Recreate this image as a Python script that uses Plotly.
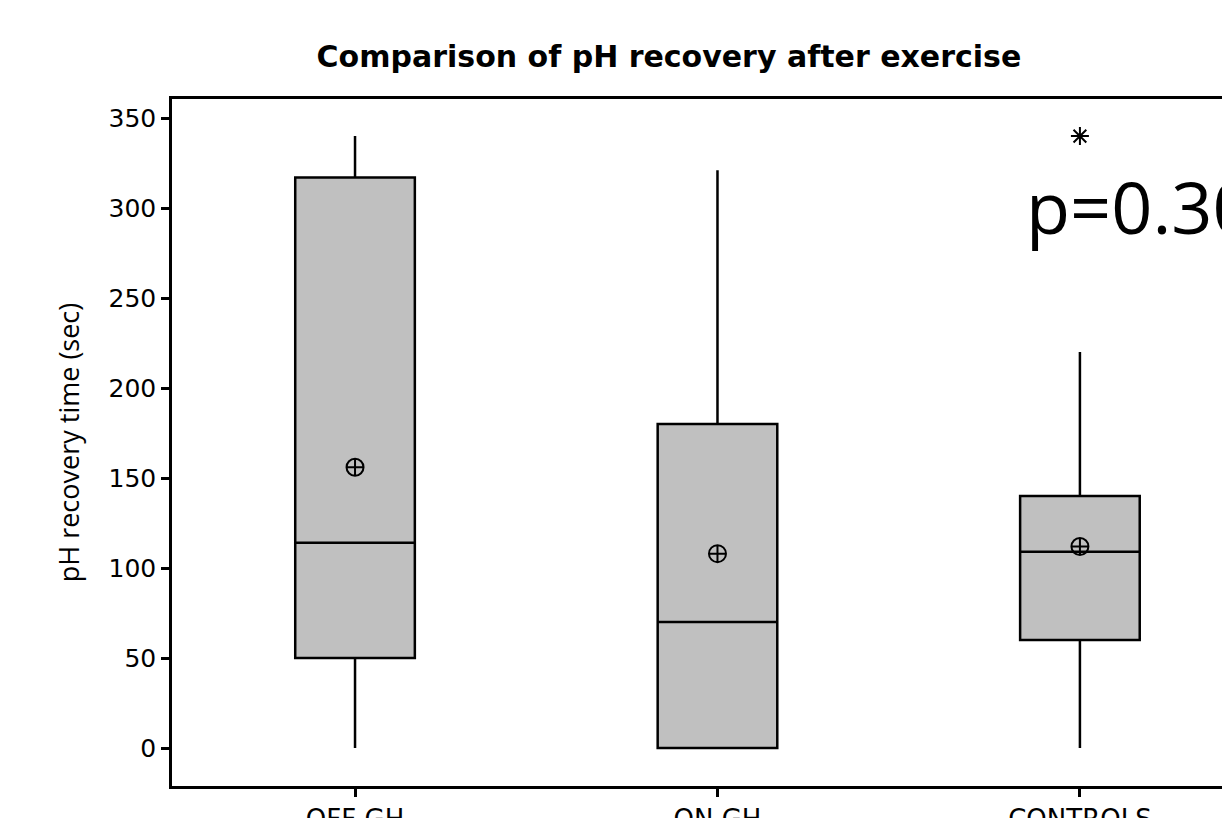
import plotly.graph_objects as go

# Group labels and summary statistics (seconds)
groups = ["OFF GH", "ON GH", "CONTROLS"]
lower_whisker = [0, 0, 0]
q1 = [50, 0, 60]
median = [114, 70, 109]
q3 = [317, 180, 140]
upper_whisker = [340, 321, 220]
means = [156, 108, 112]

# Outlying observation beyond the whisker
outlier_group = ["CONTROLS"]
outlier_value = [340]

y_ticks = [0, 50, 100, 150, 200, 250, 300, 350]

fig = go.Figure()

fig.add_trace(go.Box(
    x=groups,
    q1=q1,
    median=median,
    q3=q3,
    lowerfence=lower_whisker,
    upperfence=upper_whisker,
    width=0.33,
    whiskerwidth=0,
    fillcolor="#c0c0c0",
    line=dict(color="black", width=2.5),
    boxpoints=False,
    showlegend=False,
    hoverinfo="skip",
))

fig.add_trace(go.Scatter(
    x=groups,
    y=means,
    mode="markers",
    marker=dict(symbol="circle-cross-open", size=17, color="black",
                line=dict(width=2, color="black")),
    showlegend=False,
    hoverinfo="skip",
))

fig.add_trace(go.Scatter(
    x=outlier_group,
    y=outlier_value,
    mode="markers",
    marker=dict(symbol="asterisk-open", size=15, color="black",
                line=dict(width=2, color="black")),
    showlegend=False,
    hoverinfo="skip",
))

fig.add_annotation(
    x=2, y=300, xref="x", yref="y",
    text="p=0.30",
    showarrow=False,
    xanchor="left", yanchor="middle",
    xshift=-56,
    yshift=2,
    font=dict(family="Open Sans", size=72, color="black"),
)

fig.update_layout(
    width=1222,
    height=818,
    margin=dict(l=172, r=0, t=99, b=32, autoexpand=False),
    paper_bgcolor="white",
    plot_bgcolor="white",
    title=dict(
        text="<b>Comparison of pH recovery after exercise</b>",
        x=0.5474, xanchor="center",
        y=0.931, yanchor="middle",
        font=dict(family="DejaVu Sans", size=30, color="black"),
    ),
    font=dict(family="DejaVu Sans", color="black"),
    xaxis=dict(
        type="category",
        range=[-0.505, 2.392],
        automargin=False,
        showline=True, linecolor="black", linewidth=2.5,
        mirror=True,
        ticks="outside", ticklen=8, tickwidth=2.5, tickcolor="black",
        tickfont=dict(family="DejaVu Sans", size=26, color="black"),
        showgrid=False, zeroline=False,
    ),
    yaxis=dict(
        range=[-21.1, 360.6],
        automargin=False,
        tickvals=y_ticks,
        showline=True, linecolor="black", linewidth=2.5,
        ticks="outside", ticklen=8, tickwidth=2.5, tickcolor="black",
        tickfont=dict(family="DejaVu Sans", size=25, color="black"),
        showgrid=False, zeroline=False,
        title=dict(text="pH recovery time (sec)",
                   font=dict(family="Open Sans", size=27, color="black"),
                   standoff=22),
    ),
)

fig.write_html("out.html")
